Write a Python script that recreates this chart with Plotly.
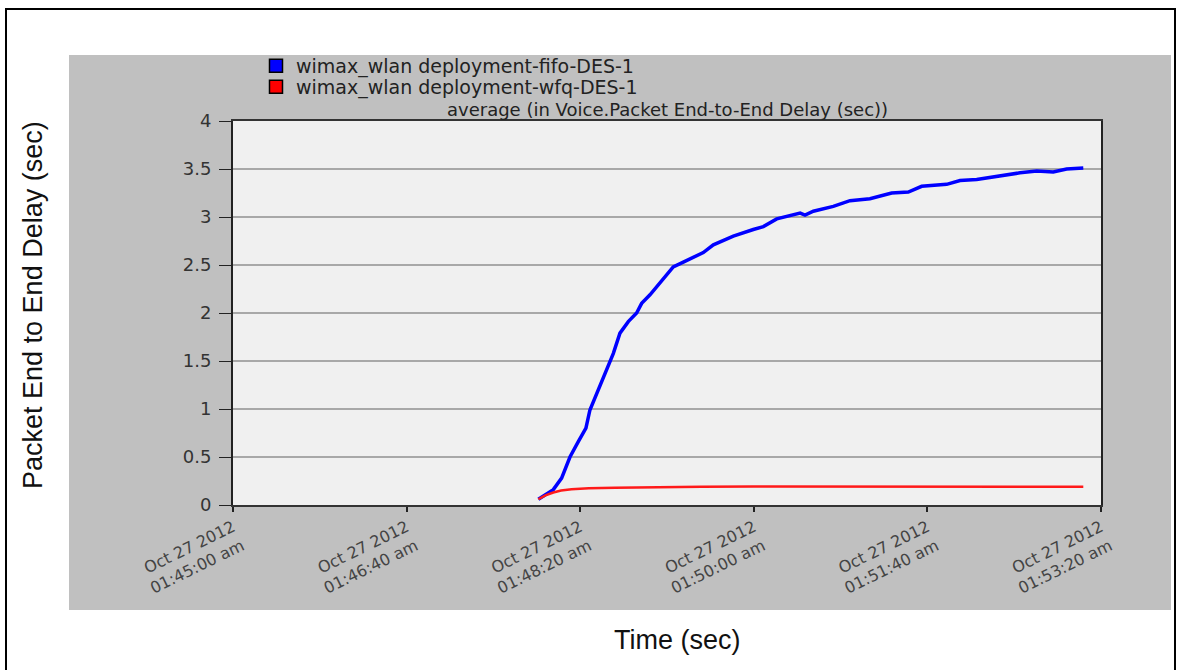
import plotly.graph_objects as go
from datetime import datetime, timedelta

BASE = datetime(2012, 10, 27, 1, 45, 0)

# Blue series (fifo): seconds after 01:45:00, delay (sec)
fifo_t = [175.9, 184.5, 189.3, 194.1, 198.9, 203.3, 205.6, 209.5, 214.3, 219.1,
          222.9, 227.7, 232.5, 235.4, 240.2, 246.0, 253.6, 259.4, 267.1, 270.9,
          276.7, 288.2, 299.7, 305.5, 313.2, 322.8, 326.7, 329.5, 334.3, 345.8,
          355.4, 366.9, 379.4, 389.0, 396.7, 411.1, 418.8, 428.4, 441.8, 453.3,
          463.0, 472.5, 480.2, 489.8]
fifo_v = [0.06, 0.16, 0.28, 0.50, 0.66, 0.80, 0.99, 1.16, 1.37, 1.58,
          1.79, 1.91, 2.00, 2.10, 2.19, 2.31, 2.48, 2.53, 2.60, 2.63,
          2.71, 2.80, 2.87, 2.90, 2.98, 3.02, 3.04, 3.02, 3.06, 3.11,
          3.17, 3.19, 3.25, 3.26, 3.32, 3.34, 3.38, 3.39, 3.43, 3.46,
          3.48, 3.47, 3.50, 3.51]

# Red series (wfq)
wfq_t = [175.9, 180.0, 184.5, 189.0, 195.0, 205.0, 220.0, 240.0, 270.0, 300.0,
         330.0, 360.0, 400.0, 440.0, 489.8]
wfq_v = [0.06, 0.10, 0.13, 0.15, 0.165, 0.175, 0.18, 0.185, 0.19, 0.192,
         0.192, 0.19, 0.19, 0.19, 0.19]

tick_secs = [0, 100, 200, 300, 400, 500]
tick_labels = ["Oct 27 2012<br>01:45:00 am", "Oct 27 2012<br>01:46:40 am",
               "Oct 27 2012<br>01:48:20 am", "Oct 27 2012<br>01:50:00 am",
               "Oct 27 2012<br>01:51:40 am", "Oct 27 2012<br>01:53:20 am"]
y_ticks = [0, 0.5, 1, 1.5, 2, 2.5, 3, 3.5, 4]

series_names = ["wimax_wlan deployment-fifo-DES-1", "wimax_wlan deployment-wfq-DES-1"]
series_colors = ["#0000ff", "#ff0000"]

WIDE = "DejaVu Sans, Verdana, sans-serif"
PLAIN = "Liberation Sans, Arial, sans-serif"


def ts(s):
    return [(BASE + timedelta(seconds=v)).strftime("%Y-%m-%d %H:%M:%S.%f") for v in s]


fig = go.Figure()
fig.add_trace(go.Scatter(x=ts(fifo_t), y=fifo_v, mode="lines",
                         line=dict(color="#0000ff", width=3.5), showlegend=False))
fig.add_trace(go.Scatter(x=ts(wfq_t), y=wfq_v, mode="lines",
                         line=dict(color="#ff1a1a", width=2.5), showlegend=False))
# legend swatches, one legend box per series
for i, (name, col) in enumerate(zip(series_names, series_colors)):
    fig.add_trace(go.Scatter(x=[None], y=[None], mode="markers", name=name,
                             legend="legend" if i == 0 else "legend2",
                             marker=dict(symbol="square", size=13, color=col,
                                         line=dict(color="#000", width=1.5))))

W, H = 1179, 670
L, R, T, B = 233, 1101, 121, 505
pw, ph = R - L, B - T


def px(x):
    return (x - L) / pw


def py(y):
    return (B - y) / ph


legend_common = dict(xanchor="left", yanchor="middle", bgcolor="rgba(0,0,0,0)",
                     font=dict(size=19, color="#222", family=WIDE),
                     itemwidth=30, borderwidth=0)

fig.update_layout(
    width=W, height=H,
    margin=dict(l=L, r=W - R, t=T, b=H - B, pad=0),
    paper_bgcolor="white",
    plot_bgcolor="#f0f0f0",
    font=dict(family=WIDE, color="#333"),
    showlegend=True,
    legend=dict(x=px(256), y=py(66), **legend_common),
    legend2=dict(x=px(256), y=py(87), **legend_common),
    xaxis=dict(
        type="date",
        range=ts([0, 500]),
        tickvals=ts(tick_secs), ticktext=tick_labels,
        tickangle=-26, tickfont=dict(size=16, color="#444", family=WIDE),
        ticks="outside", ticklen=5, tickwidth=2, tickcolor="#222",
        showline=True, linecolor="#333", linewidth=2, mirror=True,
        showgrid=False, zeroline=False,
    ),
    yaxis=dict(
        range=[0, 4], tickvals=y_ticks, ticktext=[str(v) for v in y_ticks],
        tickfont=dict(size=18, color="#333", family=WIDE),
        ticks="outside", ticklen=12, tickwidth=1, tickcolor="#222",
        ticklabelstandoff=4,
        showline=True, linecolor="#222", linewidth=2, mirror=True,
        showgrid=True, gridcolor="#a8a8a8", gridwidth=2, zeroline=False,
    ),
    shapes=[
        dict(type="rect", xref="paper", yref="paper",
             x0=px(69), x1=px(1171), y0=py(610), y1=py(55),
             fillcolor="#c0c0c0", line=dict(width=0), layer="below"),
        dict(type="rect", xref="paper", yref="paper",
             x0=0, x1=1, y0=0, y1=1,
             fillcolor="#f0f0f0", line=dict(width=0), layer="below"),
        dict(type="rect", xref="paper", yref="paper",
             x0=px(6), x1=px(1175), y0=py(700), y1=py(9),
             fillcolor="rgba(0,0,0,0)", line=dict(color="#000", width=2), layer="below"),
    ],
    annotations=[
        dict(text="average (in Voice.Packet End-to-End Delay (sec))", xref="paper", yref="paper",
             x=0.5, y=py(109), xanchor="center", yanchor="middle", showarrow=False,
             font=dict(size=18, color="#222", family=WIDE)),
        dict(text="Packet End to End Delay (sec)", xref="paper", yref="paper",
             x=px(33), y=py(305), xanchor="center", yanchor="middle", textangle=-90,
             showarrow=False, font=dict(size=27, color="#111", family=PLAIN)),
        dict(text="Time (sec)", xref="paper", yref="paper",
             x=px(677), y=py(640), xanchor="center", yanchor="middle",
             showarrow=False, font=dict(size=27, color="#111", family=PLAIN)),
    ],
)

fig.write_html("out.html")
